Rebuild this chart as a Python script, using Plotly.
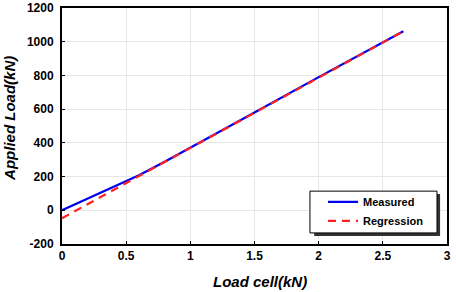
import plotly.graph_objects as go

# Data
measured_x = [0.0, 0.1, 0.2, 0.3, 0.4, 0.5, 0.6, 0.8, 1.0, 1.5, 2.0, 2.5, 2.66]
measured_y = [0, 34, 68, 102, 137, 172, 208, 288, 370, 580, 790, 995, 1062]
regression_x = [0.0, 2.66]
regression_y = [-47, 1062]

x_ticks = [0, 0.5, 1, 1.5, 2, 2.5, 3]
y_ticks = [-200, 0, 200, 400, 600, 800, 1000, 1200]

fig = go.Figure()
fig.add_trace(go.Scatter(x=measured_x, y=measured_y, mode="lines", name="Measured",
                         line=dict(color="#0000ee", width=2.2)))
fig.add_trace(go.Scatter(x=regression_x, y=regression_y, mode="lines", name="Regression",
                         line=dict(color="#ff2020", width=2.2, dash="8px,6px")))

font = "Liberation Sans, Arial, sans-serif"
fig.update_layout(
    width=456, height=292,
    margin=dict(l=62, r=9, t=8, b=48),
    paper_bgcolor="white", plot_bgcolor="white",
    font=dict(family=font, color="black"),
    showlegend=True,
    legend=dict(x=0.678, y=0.24, xanchor="left", yanchor="top",
                bgcolor="rgba(0,0,0,0)", borderwidth=0,
                font=dict(size=11, family=font, weight="bold"),
                tracegroupgap=0),
    shapes=[
        dict(type="rect", xref="paper", yref="paper",
             x0=0.655, x1=0.982, y0=0.034, y1=0.212,
             fillcolor="#333333", line=dict(width=0), layer="above"),
        dict(type="rect", xref="paper", yref="paper",
             x0=0.644, x1=0.974, y0=0.047, y1=0.224,
             fillcolor="white", line=dict(color="black", width=1), layer="above"),
    ],
    annotations=[
        dict(text="<b><i>Load cell(kN)</i></b>", xref="paper", yref="paper",
             x=0.514, y=-0.157, xanchor="center", yanchor="middle", showarrow=False,
             font=dict(size=15, family=font)),
        dict(text="<b><i>Applied Load(kN)</i></b>", xref="paper", yref="paper",
             x=-0.135, y=0.53, xanchor="center", yanchor="middle", showarrow=False,
             textangle=-90, font=dict(size=15, family=font)),
    ],
)
fig.update_xaxes(range=[0, 3], tickvals=x_ticks, ticktext=[str(v) for v in x_ticks],
                 showgrid=True, gridcolor="#e6e6e6", gridwidth=1, automargin=False,
                 showline=True, linecolor="black", linewidth=2, mirror=True,
                 ticks="inside", ticklen=3, tickcolor="black", zeroline=False,
                 tickfont=dict(size=12, family=font, weight="bold"))
fig.update_yaxes(range=[-200, 1200], tickvals=y_ticks, ticktext=[str(v) for v in y_ticks],
                 showgrid=True, gridcolor="#e6e6e6", gridwidth=1, automargin=False,
                 showline=True, linecolor="black", linewidth=2, mirror=True,
                 ticks="inside", ticklen=3, tickcolor="black", zeroline=False,
                 ticklabelstandoff=4,
                 tickfont=dict(size=12, family=font, weight="bold"))
fig.write_html("out.html")
